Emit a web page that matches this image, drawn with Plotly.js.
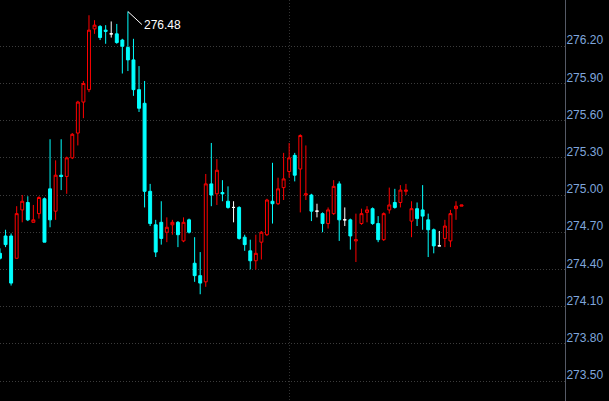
<!DOCTYPE html>
<html><head><meta charset="utf-8">
<script src="https://cdn.plot.ly/plotly-3.0.1.min.js"></script>
<style>html,body{margin:0;padding:0;background:#000;overflow:hidden}#chart{width:609px;height:401px;}</style>
</head><body><div id="chart"></div>
<script>
const openP = [274.53,274.67,274.67,274.49,274.88,274.94,274.78,274.85,274.97,275.05,274.87,275.16,275.15,275.30,275.50,275.75,275.85,276.34,276.36,276.33,276.30,276.30,276.25,276.19,276.09,275.85,275.74,275.03,274.76,274.78,274.70,274.76,274.78,274.63,274.80,274.45,274.35,274.30,275.09,275.01,275.02,274.95,274.90,274.90,274.66,274.55,274.47,274.62,274.68,274.95,274.93,275.06,275.19,275.32,275.21,275.00,275.00,274.87,274.85,274.77,274.85,275.09,274.80,274.80,274.63,274.77,274.86,274.89,274.77,274.64,274.88,274.94,274.94,275.03,274.79,274.89,274.88,274.80,274.72,274.59,274.65,274.63,274.89,274.91];
const highP = [274.57,274.72,274.69,274.91,275.00,274.99,274.92,274.99,274.98,275.45,275.28,275.45,275.31,275.50,275.76,275.92,276.45,276.41,276.37,276.37,276.40,276.38,276.26,276.48,276.26,276.04,275.92,275.09,274.80,274.95,274.82,274.80,274.79,274.82,274.81,274.66,274.54,275.17,275.42,275.29,275.12,275.07,274.95,274.91,274.68,274.64,274.68,274.71,274.97,275.26,275.14,275.34,275.42,275.34,275.49,275.40,275.01,274.93,274.86,274.90,275.12,275.11,274.90,274.81,274.85,274.89,274.91,274.90,274.83,274.86,275.06,275.05,275.08,275.09,274.95,274.94,275.08,274.85,274.73,274.71,274.80,274.88,274.95,274.92];
const lowP = [274.48,274.58,274.27,274.49,274.78,274.79,274.78,274.81,274.62,274.74,274.80,275.04,275.01,275.29,275.40,275.62,275.83,276.30,276.25,276.22,276.27,276.22,275.98,276.00,275.80,275.67,274.90,274.75,274.50,274.60,274.62,274.68,274.58,274.62,274.69,274.30,274.20,274.26,274.91,274.92,274.95,274.89,274.78,274.64,274.55,274.40,274.40,274.48,274.67,274.77,274.92,274.96,275.14,275.11,274.86,274.96,274.79,274.82,274.70,274.73,274.84,274.63,274.75,274.56,274.46,274.76,274.78,274.76,274.62,274.63,274.85,274.89,274.90,275.00,274.66,274.75,274.72,274.50,274.53,274.59,274.58,274.58,274.80,274.91];
const closeP = [274.49,274.60,274.29,274.85,274.95,274.80,274.80,274.98,274.62,274.80,275.16,275.15,275.30,275.49,275.75,275.90,276.33,276.37,276.27,276.32,276.30,276.23,276.20,276.09,275.85,275.70,275.03,274.77,274.54,274.65,274.74,274.78,274.68,274.78,274.70,274.35,274.29,275.09,275.00,275.20,275.01,274.90,274.90,274.65,274.60,274.47,274.53,274.70,274.96,274.93,275.05,275.13,275.30,275.16,275.48,275.01,274.87,274.87,274.77,274.88,275.07,274.80,274.80,274.67,274.64,274.85,274.88,274.77,274.64,274.85,274.92,274.90,275.04,275.04,274.89,274.81,274.83,274.72,274.59,274.59,274.75,274.85,274.91,274.92];
const tickVals = [273.50,273.80,274.10,274.40,274.70,275.00,275.30,275.60,275.90,276.20];
const sessionBreak = [52];

const idx = openP.map((_, i) => i);
function pick(cond) {
  const s = idx.filter(cond);
  return {
    x: s, open: s.map(i => openP[i]), high: s.map(i => highP[i]),
    low: s.map(i => lowP[i]), close: s.map(i => closeP[i])
  };
}
const main = pick(i => openP[i] !== closeP[i]);
const doji = pick(i => openP[i] === closeP[i]);

const traces = [
  Object.assign({type: 'candlestick', name: 'k', hoverinfo: 'none',
    increasing: {line: {color: '#ff0000', width: 1}, fillcolor: '#000000'},
    decreasing: {line: {color: '#00ffff', width: 1}, fillcolor: '#00ffff'}}, main),
  Object.assign({type: 'candlestick', name: 'd', hoverinfo: 'none',
    increasing: {line: {color: '#ffffff', width: 1}, fillcolor: '#ffffff'},
    decreasing: {line: {color: '#ffffff', width: 1}, fillcolor: '#ffffff'}}, doji)
];

let maxI = 0;
highP.forEach((v, i) => { if (v > highP[maxI]) maxI = i; });

const layout = {
  width: 609, height: 401,
  paper_bgcolor: '#000000', plot_bgcolor: '#000000',
  margin: {l: 0, r: 44, t: 0, b: 0, pad: 0},
  showlegend: false,
  boxgap: 0.25,
  xaxis: {
    range: [0, 101.6], rangeslider: {visible: false},
    tickvals: sessionBreak, showticklabels: false, ticks: '',
    showgrid: true, gridcolor: '#333333', griddash: '1px,2px', gridwidth: 1,
    zeroline: false, showline: false, fixedrange: true
  },
  yaxis: {
    side: 'right', range: [273.339, 276.573],
    tickvals: tickVals, ticktext: tickVals.map(v => v.toFixed(2)),
    showgrid: true, gridcolor: '#3c3c3c', griddash: '1px,2px', gridwidth: 1,
    zeroline: false, showline: true, linecolor: '#555a66', linewidth: 1,
    ticks: '', ticklabelshift: -6, ticklabelstandoff: -2,
    tickfont: {family: 'Liberation Sans, Arial, sans-serif', size: 12, color: '#7fa6dc'},
    fixedrange: true
  },
  annotations: [{
    x: maxI, y: highP[maxI], xref: 'x', yref: 'y',
    text: highP[maxI].toFixed(2), showarrow: true, arrowhead: 0,
    arrowcolor: '#ffffff', arrowwidth: 1, ax: 14, ay: 13,
    xanchor: 'left', yanchor: 'middle', standoff: 0,
    font: {family: 'Liberation Sans, Arial, sans-serif', size: 12, color: '#ffffff'}
  }]
};

Plotly.newPlot('chart', traces, layout, {staticPlot: true, displayModeBar: false});
</script>
</body></html>
